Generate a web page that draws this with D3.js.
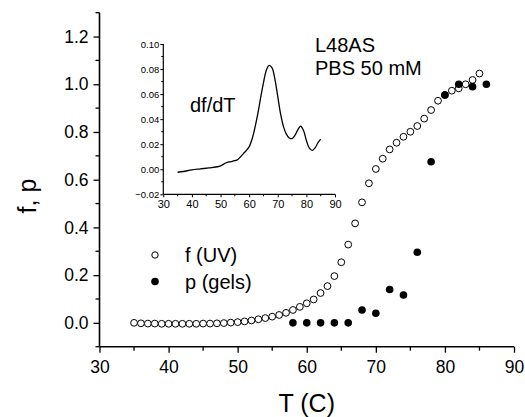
<!DOCTYPE html>
<html><head><meta charset="utf-8">
<script src="https://cdn.jsdelivr.net/npm/d3@7"></script>
<style>html,body{margin:0;padding:0;background:#fff;}svg{display:block;}text{font-family:"Liberation Sans",Arial,sans-serif;fill:#000;}</style>
</head><body>
<script>
// ---- data ----
const fT = d3.range(35, 86, 1);
const fVals = [0.000,-0.002,-0.003,-0.003,-0.004,-0.004,-0.004,-0.004,-0.004,-0.004,
  -0.003,-0.003,-0.002,-0.001,0.001,0.003,0.006,0.010,0.015,0.020,
  0.026,0.033,0.042,0.054,0.067,0.082,0.098,0.125,0.154,0.196,
  0.254,0.328,0.417,0.505,0.585,0.645,0.688,0.727,0.755,0.780,
  0.801,0.825,0.856,0.892,0.931,0.955,0.973,0.983,1.000,1.018,1.045];
const pT = [58,60,62,64,66,68,70,72,74,76,78,80,82,84,86];
const pVals = [0.0,0.0,0.0,0.0,0.0,0.054,0.040,0.140,0.117,0.296,0.675,0.955,1.000,0.990,1.000];
const dT = [35,37,40,43,46,49,50,52,53,55,56,57,58,59,60,61,62,63,64,65,66,67,68,69,70,71,72,73,74,75,76,77,78,79,80,81,82,83,84,85];
const dVals = [-0.0024,-0.0018,-0.0005,0.0003,0.0011,0.0020,0.0027,0.0052,0.0058,0.0068,0.0077,0.0100,0.0125,0.0150,0.0180,0.0240,0.0330,0.0440,0.0570,0.0690,0.0790,0.0830,0.0810,0.0720,0.0580,0.0440,0.0340,0.0280,0.0250,0.0245,0.0270,0.0315,0.0345,0.0310,0.0230,0.0170,0.0150,0.0170,0.0210,0.0240];
const xTicks = [30,40,50,60,70,80,90];
const yTicks = [0.0,0.2,0.4,0.6,0.8,1.0,1.2];
const insetXTicks = [30,40,50,60,70,80,90];
const insetYTicks = [-0.02,0.00,0.02,0.04,0.06,0.08,0.10];

const W = 525, H = 417;
const FONT = '"Liberation Sans",Arial,sans-serif';
const svg = d3.select("body").append("svg").attr("width", W).attr("height", H);
svg.append("rect").attr("width", W).attr("height", H).attr("fill", "#fff");

// ---- main scales ----
const x = d3.scaleLinear().domain([30, 90]).range([99.5, 514]);
const y = d3.scaleLinear().domain([-0.1, 1.3]).range([346.7, 12.7]);

const gx = svg.append("g").attr("transform", `translate(0,${y(-0.1)})`);
gx.call(d3.axisBottom(x).tickValues(xTicks).tickFormat(d3.format("d")).tickSize(6).tickPadding(8));
gx.append("g").selectAll("line").data(d3.range(35, 90, 10)).join("line")
  .attr("x1", d => x(d)).attr("x2", d => x(d)).attr("y1", 0).attr("y2", 4).attr("stroke", "#000").attr("stroke-width", 1.3);
gx.selectAll(".tick line").attr("stroke-width", 1.3);
gx.selectAll(".tick text").attr("font-size", 17.5).attr("font-family", FONT);

const gy = svg.append("g").attr("transform", `translate(${x(30)},0)`);
gy.call(d3.axisLeft(y).tickValues(yTicks).tickFormat(d3.format(".1f")).tickSize(6).tickPadding(5));
gy.append("g").selectAll("line").data([-0.1,0.1,0.3,0.5,0.7,0.9,1.1,1.3]).join("line")
  .attr("y1", d => y(d)).attr("y2", d => y(d)).attr("x1", 0).attr("x2", -4).attr("stroke", "#000").attr("stroke-width", 1.3);
gy.selectAll(".tick line").attr("stroke-width", 1.3);
gy.selectAll(".tick text").attr("font-size", 17.5).attr("font-family", FONT);

// axis titles
svg.append("text").attr("x", x(60)).attr("y", 412).attr("text-anchor", "middle").attr("font-size", 25).text("T (C)");
svg.append("text").attr("transform", "translate(36,196) rotate(-90)").attr("text-anchor", "middle").attr("font-size", 25).text("f, p");

// data points
svg.append("g").selectAll("circle").data(fT.map((t, i) => [t, fVals[i]])).join("circle")
  .attr("cx", d => x(d[0])).attr("cy", d => y(d[1])).attr("r", 3.4)
  .attr("fill", "#fff").attr("stroke", "#000").attr("stroke-width", 1);
svg.append("g").selectAll("circle").data(pT.map((t, i) => [t, pVals[i]])).join("circle")
  .attr("cx", d => x(d[0])).attr("cy", d => y(d[1])).attr("r", 3.8).attr("fill", "#000");

// legend
svg.append("circle").attr("cx", 155).attr("cy", 255).attr("r", 3.2).attr("fill", "#fff").attr("stroke", "#000").attr("stroke-width", 1);
svg.append("text").attr("x", 185).attr("y", 262).attr("font-size", 20).text("f (UV)");
svg.append("circle").attr("cx", 155).attr("cy", 281.5).attr("r", 3.8).attr("fill", "#000");
svg.append("text").attr("x", 185).attr("y", 288.5).attr("font-size", 20).text("p (gels)");

// annotation
svg.append("text").attr("x", 315).attr("y", 52).attr("font-size", 20).text("L48AS");
svg.append("text").attr("x", 315).attr("y", 75).attr("font-size", 20).text("PBS 50 mM");

// ---- inset ----
const ix = d3.scaleLinear().domain([30, 90]).range([163.3, 335]);
const iy = d3.scaleLinear().domain([-0.02, 0.10]).range([194.3, 44]);
const igx = svg.append("g").attr("transform", `translate(0,${iy(-0.02)})`);
igx.call(d3.axisBottom(ix).tickValues(insetXTicks).tickFormat(d3.format("d")).tickSize(3).tickPadding(3));
igx.append("g").selectAll("line").data(d3.range(35, 90, 10)).join("line")
  .attr("x1", d => ix(d)).attr("x2", d => ix(d)).attr("y1", 0).attr("y2", 2).attr("stroke", "#000");
igx.selectAll(".tick text").attr("font-size", 11).attr("font-family", FONT);
const igy = svg.append("g").attr("transform", `translate(${ix(30)},0)`);
igy.call(d3.axisLeft(iy).tickValues(insetYTicks).tickFormat(d3.format(".2f")).tickSize(3).tickPadding(1));
igy.append("g").selectAll("line").data(d3.range(-0.01, 0.10, 0.02)).join("line")
  .attr("y1", d => iy(d)).attr("y2", d => iy(d)).attr("x1", 0).attr("x2", -2).attr("stroke", "#000");
igy.selectAll(".tick text").attr("font-size", 9.5).attr("font-family", FONT);

const line = d3.line().x(d => ix(d[0])).y(d => iy(d[1])).curve(d3.curveCatmullRom.alpha(0.5));
svg.append("path").datum(dT.map((t, i) => [t, dVals[i]])).attr("d", line)
  .attr("fill", "none").attr("stroke", "#000").attr("stroke-width", 1.3);
svg.append("text").attr("x", 190).attr("y", 111.5).attr("font-size", 20).text("df/dT");

// axis lines without end caps
svg.selectAll(".domain").remove();
svg.append("line").attr("x1", x(30)).attr("x2", x(90)).attr("y1", y(-0.1)).attr("y2", y(-0.1)).attr("stroke", "#000").attr("stroke-width", 1.6);
svg.append("line").attr("x1", x(30)).attr("x2", x(30)).attr("y1", y(-0.1)).attr("y2", y(1.3)).attr("stroke", "#000").attr("stroke-width", 1.6);
svg.append("line").attr("x1", ix(30)).attr("x2", ix(90)).attr("y1", iy(-0.02)).attr("y2", iy(-0.02)).attr("stroke", "#000").attr("stroke-width", 1.2);
svg.append("line").attr("x1", ix(30)).attr("x2", ix(30)).attr("y1", iy(-0.02)).attr("y2", iy(0.10)).attr("stroke", "#000").attr("stroke-width", 1.2);
</script>
</body></html>
